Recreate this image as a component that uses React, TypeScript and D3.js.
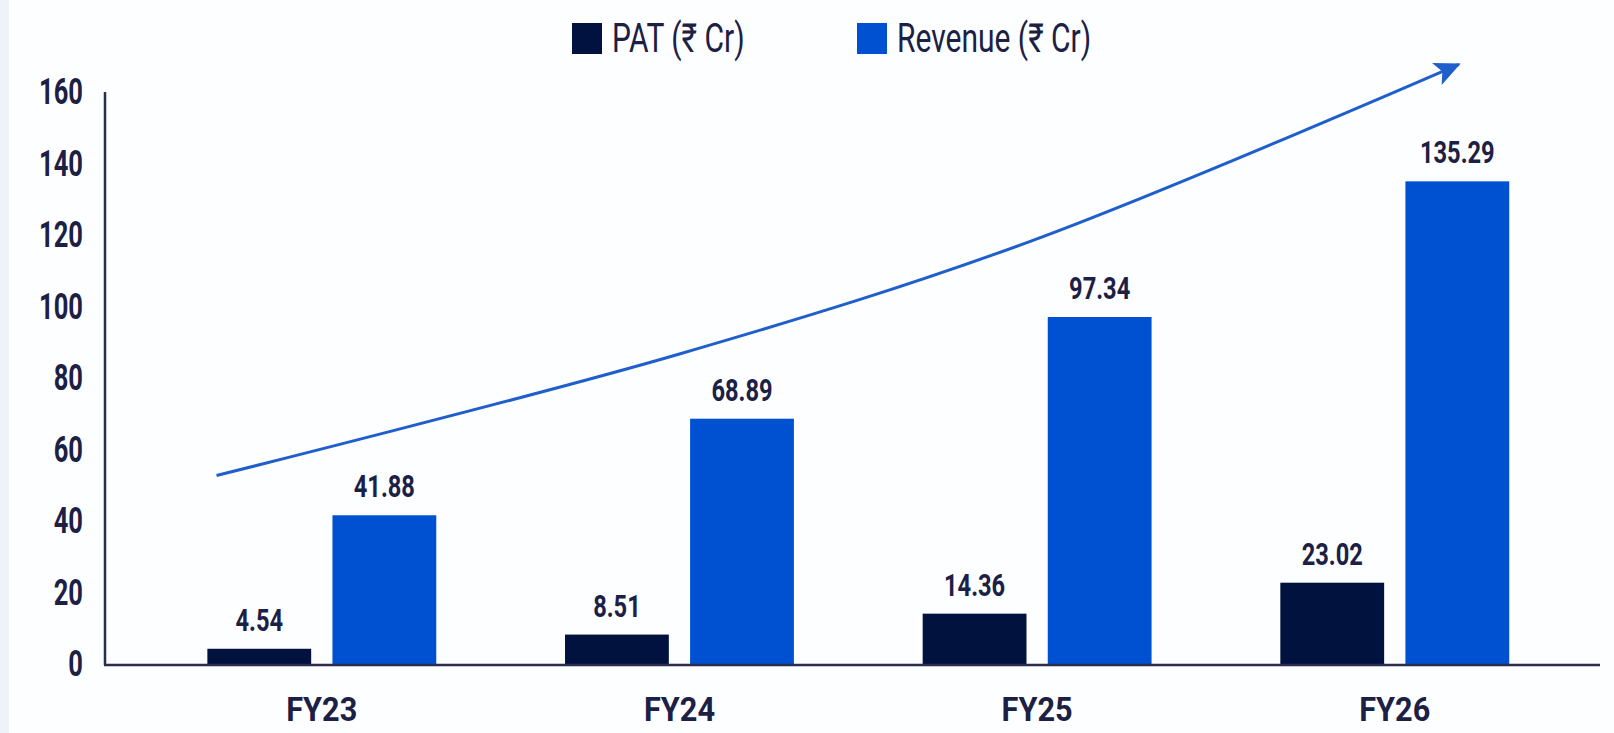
import React from 'react';
import * as d3 from 'd3';

const years = ['FY23', 'FY24', 'FY25', 'FY26'];
const patValues = [4.54, 8.51, 14.36, 23.02];
const revenueValues = [41.88, 68.89, 97.34, 135.29];
const yTicks = [0, 20, 40, 60, 80, 100, 120, 140, 160];
const seriesKeys = ['PAT', 'Revenue'];
const seriesLabels = ['PAT (₹ Cr)', 'Revenue (₹ Cr)'];

// growth arrow drawn in chart space: year band + offset inside band, value on y
const trendYears = ['FY23', 'FY24', 'FY25', 'FY26'];
const trendOffsets = [0.04, 0.5, 0.47, 0.78];
const trendValues = [53, 87, 118.5, 168];

const W = 1614;
const H = 733;
const navy = '#02123f';
const blue = '#0050d2';
const textColor = '#1b2044';
const axisColor = '#2a2e4e';
const arrowColor = '#1f5fcc';
const font = "Roboto, 'Noto Sans', sans-serif";

function CText({x, y, anchor = 'middle', size, sx = 1, weight = 700, children}: any) {
    return (
        <text
            transform={`translate(${x}, ${y}) scale(${sx}, 1)`}
            textAnchor={anchor}
            fontSize={size}
            fontWeight={weight}
            fontFamily={font}
            fill={textColor}>
            {children}
        </text>
    )
}

export default function App() {

    const data = years.map((y, i) => ({year: y, PAT: patValues[i], Revenue: revenueValues[i]}));

    const x0 = d3.scaleBand()
                .domain(years)
                .range([105, 1600])
                .paddingInner(0.36)
                .paddingOuter(0.27)
                .align(0.53);

    const x1 = d3.scaleBand()
                .domain(seriesKeys)
                .range([0, x0.bandwidth()])
                .paddingInner(0.17);

    const y = d3.scaleLinear()
                .domain([0, 160])
                .range([665, 93]);

    const colors: any = {PAT: navy, Revenue: blue};

    const trendPts: [number, number][] = trendYears.map((yr, i) => [
        (x0(yr) as number) + trendOffsets[i] * x0.bandwidth(),
        y(trendValues[i])
    ]);
    const trendPath = d3.line().curve(d3.curveCatmullRom)(trendPts) as string;

    const legendX = [572, 857];

    return (
        <svg width={W} height={H} style={{position: 'fixed', left: 0, top: 0, background: '#fdfeff'}} xmlns="http://www.w3.org/2000/svg">
            <defs>
                <marker id="arrowHead" markerUnits="userSpaceOnUse" markerWidth={30} markerHeight={26} refX={24} refY={12} orient="auto">
                    <path d="M0,0 L26,12 L0,24 L6,12 Z" fill={arrowColor}></path>
                </marker>
            </defs>
            <rect x={0} y={0} width={W} height={H} fill="#fdfeff"></rect>
            <rect x={0} y={0} width={9} height={H} fill="#eef3fa"></rect>

            {/* legend */}
            {seriesKeys.map((k, i) =>
                <g key={`Legend_${k}`}>
                    <rect x={legendX[i]} y={23} width={30} height={31} fill={colors[k]}></rect>
                    <CText x={legendX[i] + 40} y={52} anchor="start" size={40} sx={0.75} weight={400}>{seriesLabels[i]}</CText>
                </g>
            )}

            {/* y tick labels */}
            {yTicks.map((t) =>
                <CText key={`TickY_${t}`} x={83} y={y(t) + 11} anchor="end" size={37} sx={0.69}>{t}</CText>
            )}

            {/* trend arrow */}
            <path d={trendPath} fill="none" stroke={arrowColor} strokeWidth={3} markerEnd="url(#arrowHead)"></path>

            {/* bars */}
            {data.map((d: any) =>
                <g key={`Group_${d.year}`} transform={`translate(${x0(d.year)}, 0)`}>
                    {seriesKeys.map((k) =>
                        <g key={`Bar_${d.year}_${k}`}>
                            <rect
                                x={x1(k)}
                                y={y(d[k])}
                                width={x1.bandwidth()}
                                height={y(0) - y(d[k])}
                                fill={colors[k]}>
                            </rect>
                            <CText x={(x1(k) as number) + x1.bandwidth() / 2} y={y(d[k]) - 18} size={32} sx={0.74}>{d[k].toFixed(2)}</CText>
                        </g>
                    )}
                </g>
            )}

            {/* axes */}
            <line x1={105} x2={105} y1={92} y2={y(0)} stroke={axisColor} strokeWidth={2.5}></line>
            <line x1={104} x2={1600} y1={y(0)} y2={y(0)} stroke={axisColor} strokeWidth={2.5}></line>

            {/* x labels */}
            {years.map((yr) =>
                <CText key={`TickX_${yr}`} x={(x0(yr) as number) + x0.bandwidth() / 2} y={721} size={33} sx={0.93}>{yr}</CText>
            )}
        </svg>
    )
}
